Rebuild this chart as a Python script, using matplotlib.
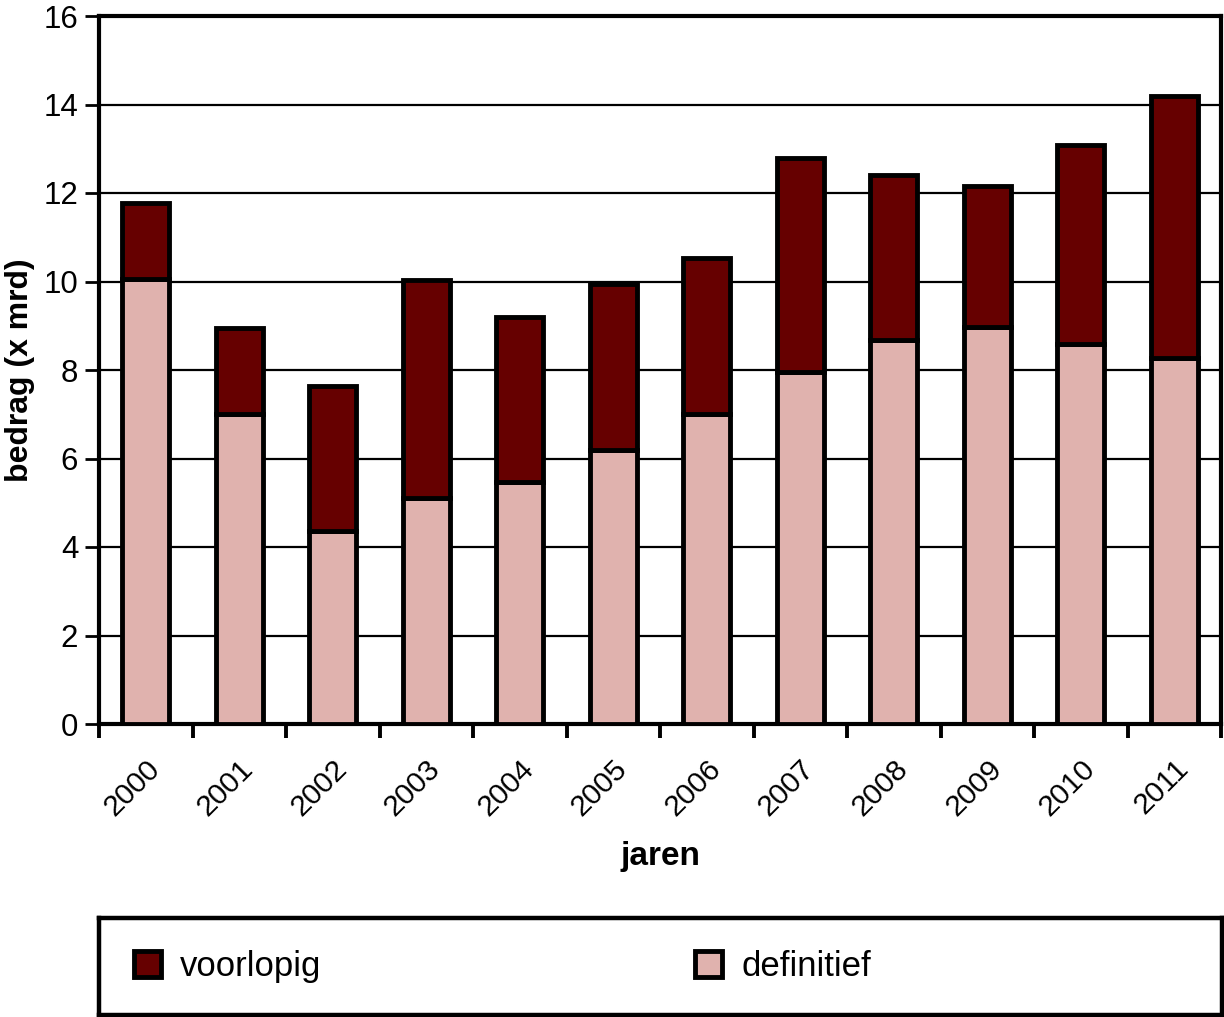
import matplotlib.pyplot as plt
import numpy as np

plt.rcParams['font.family'] = ['Liberation Sans', 'DejaVu Sans']

jaren = ['2000', '2001', '2002', '2003', '2004', '2005',
         '2006', '2007', '2008', '2009', '2010', '2011']
# definitief part (bottom) and total height (top of stack)
definitief = [10.06, 7.0, 4.36, 5.11, 5.47, 6.19, 7.0, 7.95, 8.68, 8.97, 8.59, 8.27]
totaal = [11.77, 8.95, 7.64, 10.03, 9.2, 9.94, 10.53, 12.79, 12.41, 12.16, 13.08, 14.2]
voorlopig = [t - d for t, d in zip(totaal, definitief)]

c_def = '#e0b2ae'
c_voor = '#660000'

fig = plt.figure(figsize=(12.24, 10.17), dpi=100)
ax = fig.add_axes([99/1224, 1 - 724/1017, 1122/1224, 708/1017])

x = np.arange(len(jaren))
b_def = ax.bar(x, definitief, width=0.5, color=c_def, edgecolor='black', linewidth=3.5,
               label='definitief', zorder=3)
b_voor = ax.bar(x, voorlopig, width=0.5, bottom=definitief, color=c_voor, edgecolor='black',
                linewidth=3.5, label='voorlopig', zorder=3)

ax.set_xlim(-0.5, len(jaren) - 0.5)
ax.set_ylim(0, 16)
ax.set_yticks(np.arange(0, 17, 2))
ax.yaxis.grid(True, color='black', linewidth=1.6)
ax.set_axisbelow(True)

# ticks at the category boundaries, labels centred on the bars
ax.set_xticks(np.arange(-0.5, len(jaren), 1))
ax.set_xticklabels([])
ax.set_xticks(x, minor=True)
ax.set_xticklabels(jaren, minor=True, rotation=45, ha='right', va='top',
                   rotation_mode='anchor', fontsize=21.5)
ax.tick_params(axis='x', which='major', length=10, width=2.8, direction='out')
ax.tick_params(axis='x', which='minor', length=0, pad=22)
ax.tick_params(axis='y', length=10, width=2, labelsize=22.5, pad=5)

for s in ax.spines.values():
    s.set_linewidth(3)

ax.set_ylabel('bedrag (x mrd)', fontsize=23, fontweight='bold', labelpad=6)
ax.set_xlabel('jaren', fontsize=24, fontweight='bold', labelpad=14)

# legend in its own framed box below the chart
lax = fig.add_axes([99/1224, 1 - 1015/1017, 1123/1224, 97/1017])
lax.set_xticks([])
lax.set_yticks([])
for s in lax.spines.values():
    s.set_linewidth(3.2)

kw = dict(loc='center left', fontsize=25, frameon=False, borderpad=0,
          borderaxespad=0, handlelength=0.78, handleheight=0.8, handletextpad=0.55)
leg1 = lax.legend([b_voor], ['voorlopig'], bbox_to_anchor=(0.031, 0.5), **kw)
lax.add_artist(leg1)
leg2 = lax.legend([b_def], ['definitief'], bbox_to_anchor=(0.531, 0.5), **kw)
for lg in (leg1, leg2):
    for p in lg.get_patches():
        p.set_linewidth(3.5)

fig.savefig('out.png', dpi=100)
